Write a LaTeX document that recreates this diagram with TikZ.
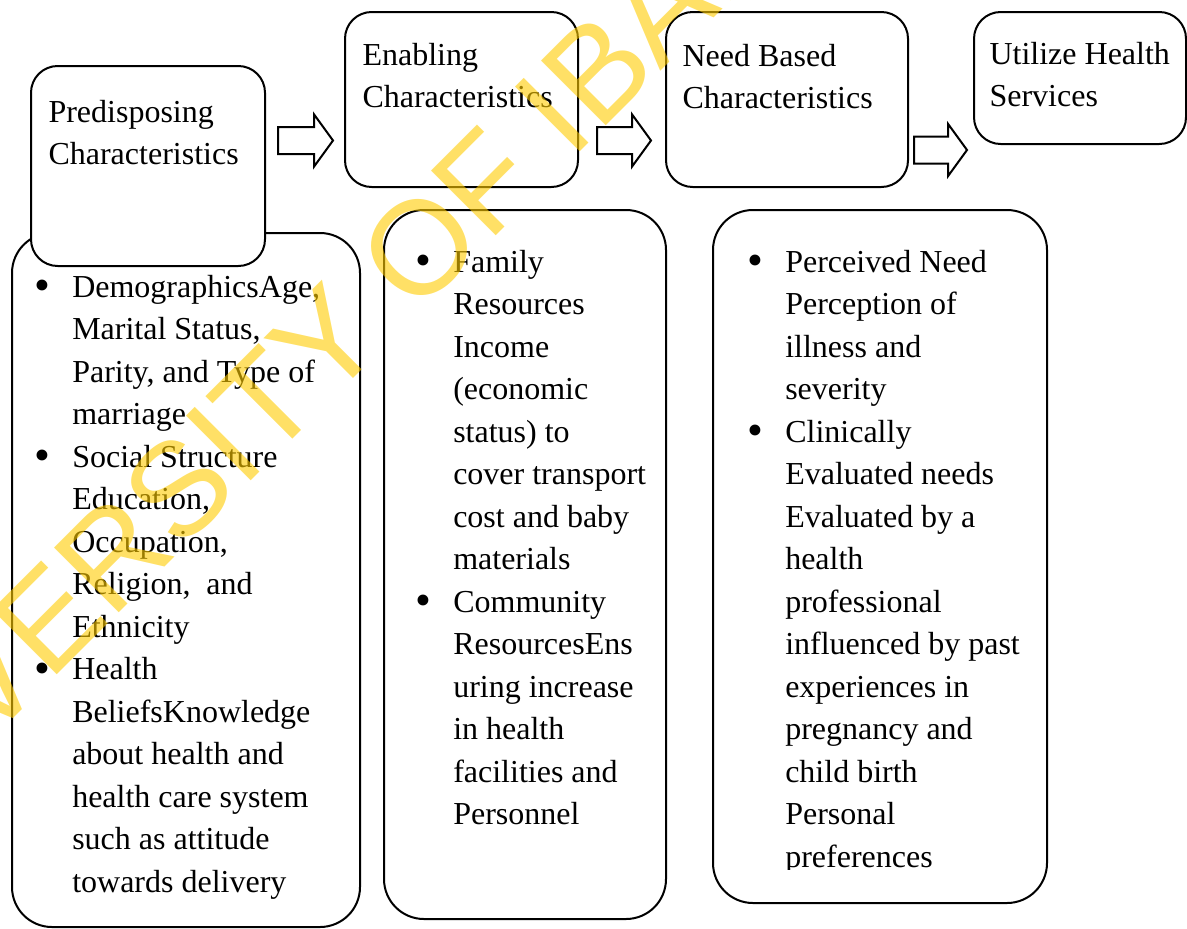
\documentclass[tikz,border=0pt]{standalone}
\usepackage{fontspec}
\setmainfont{Liberation Serif}
\newfontfamily\stampfont{Liberation Sans}
\usepackage{tikz}
\usetikzlibrary{shapes.arrows,fit}
\definecolor{StampGold}{RGB}{255,204,0}
\newcommand{\pix}{0.375pt}
\newcommand{\dotmark}{\raisebox{-1.4pt}{\fontsize{17}{17}\selectfont\textbullet}}
\newcommand{\stacked}[1]{\begin{tabular}[t]{@{}l@{}}#1\end{tabular}}
\newcommand{\bullets}[1]{\begin{tabular}[t]{@{}l@{\hspace{8.2pt}}l@{}}#1\end{tabular}}

\begin{document}
\begin{tikzpicture}[x=\pix,y=-\pix,
    head/.style={draw,fill=white,line width=0.75pt,rounded corners=10pt,inner sep=0pt},
    card/.style={draw,line width=0.75pt,rounded corners=15pt,inner sep=0pt},
    words/.style={anchor=base west,inner sep=0pt,font=\fontsize{12}{15.94}\selectfont},
    hollow/.style={single arrow,draw,fill=white,line width=0.75pt,anchor=tail,
      inner xsep=0pt,inner ysep=12.5*\pix,single arrow head extend=12.5*\pix,
      single arrow tip angle=108}]
  \useasboundingbox (0,0) rectangle (1187,928);
  % lower cards first, the heading boxes cover their top edge
  \node[card,fit={(12,233) (360,927)}] (preCard) {};
  \node[card,fit={(384,210) (666,919)}] (enaCard) {};
  \node[card,fit={(713,210) (1047,903)}] (needCard) {};
  \node[head,fit={(31,66) (265,266)}] (preBox) {};
  \node[head,fit={(345,12) (578,187)}] (enaBox) {};
  \node[head,fit={(666,12) (908,187)}] (needBox) {};
  \node[head,fit={(974,12) (1186,144)}] (useBox) {};

  \node[hollow,minimum height=55*\pix] (stepA) at (277,140.5) {};
  \node[hollow,minimum height=54*\pix] (stepB) at (596,140.5) {};
  \node[hollow,minimum height=53*\pix] (stepC) at (913,150) {};

  \node[words] (preHead) at (48,122) {\stacked{Predisposing\\Characteristics}};
  \node[words] (enaHead) at (362,65) {\stacked{Enabling\\Characteristics}};
  \node[words] (needHead) at (682,66) {\stacked{Need Based\\Characteristics}};
  \node[words] (useHead) at (989,64) {\stacked{Utilize Health\\Services}};

  \node[words] (preList) at (34,297) {\bullets{
    \dotmark & DemographicsAge,\\
    & Marital Status,\\
    & Parity, and Type of\\
    & marriage\\
    \dotmark & Social Structure\\
    & Education,\\
    & Occupation,\\
    & Religion,~ and\\
    & Ethnicity\\
    \dotmark & Health\\
    & BeliefsKnowledge\\
    & about health and\\
    & health care system\\
    & such as attitude\\
    & towards delivery}};
  \node[words] (enaList) at (415,272) {\bullets{
    \dotmark & Family\\
    & Resources\\
    & Income\\
    & (economic\\
    & status) to\\
    & cover transport\\
    & cost and baby\\
    & materials\\
    \dotmark & Community\\
    & ResourcesEns\\
    & uring increase\\
    & in health\\
    & facilities and\\
    & Personnel}};
  % last line runs past the frame of its text box
  \begin{scope}
    \clip (700,200) rectangle (1060,869);
    \node[words] (needList) at (747,272) {\bullets{
      \dotmark & Perceived Need\\
      & Perception of\\
      & illness and\\
      & severity\\
      \dotmark & Clinically\\
      & Evaluated needs\\
      & Evaluated by a\\
      & health\\
      & professional\\
      & influenced by past\\
      & experiences in\\
      & pregnancy and\\
      & child birth\\
      & Personal\\
      & preferences}};
  \end{scope}

  \node[anchor=base west,rotate=45,inner sep=0pt,text=StampGold,text opacity=.6,
        font=\stampfont\fontsize{49.9}{50}\selectfont] (stamp) at (-176,908)
        {UNIVERSITY OF IBADAN};
\end{tikzpicture}
\end{document}
